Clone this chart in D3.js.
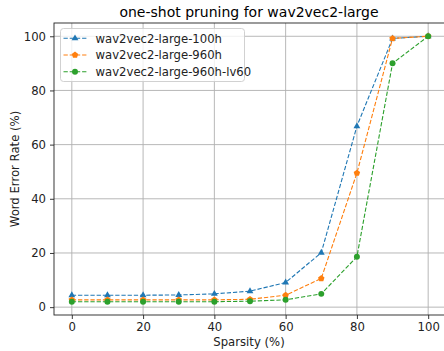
<!DOCTYPE html>
<html>
<head>
<meta charset="utf-8">
<script src="https://cdn.jsdelivr.net/npm/d3@7.9.0/dist/d3.min.js"></script>
<style>
  body { margin: 0; background: #fff; }
  svg { font-family: 'DejaVu Sans', sans-serif; }
</style>
</head>
<body>
<svg id="chart" width="444" height="351"></svg>
<script>
const sparsity = [0, 10, 20, 30, 40, 50, 60, 70, 80, 90, 100];
const wer100h = [4.4, 4.4, 4.4, 4.5, 4.9, 5.9, 9.1, 20.1, 66.8, 99.2, 100];
const wer960h = [2.7, 2.7, 2.7, 2.7, 2.7, 2.9, 4.4, 10.6, 49.5, 99.2, 100];
const wer960hLv60 = [2.0, 2.0, 2.0, 2.0, 2.0, 2.2, 2.7, 4.9, 18.6, 90.0, 100];
const xTicks = [0, 20, 40, 60, 80, 100];
const yTicks = [0, 20, 40, 60, 80, 100];

const series = [
  { name: 'wav2vec2-large-100h', values: wer100h, color: '#1f77b4', marker: 'tri' },
  { name: 'wav2vec2-large-960h', values: wer960h, color: '#ff7f0e', marker: 'pent' },
  { name: 'wav2vec2-large-960h-lv60', values: wer960hLv60, color: '#2ca02c', marker: 'circle' }
];

const svg = d3.select('#chart');
const m = { left: 54, right: 446, top: 23, bottom: 315 };
const fs = 11.67;

const x = d3.scaleLinear().domain([-5, 105]).range([m.left, m.right]);
const y = d3.scaleLinear().domain([-2.9, 104.9]).range([m.bottom, m.top]);

// grid
svg.append('g').selectAll('line').data(xTicks).join('line')
  .attr('x1', d => x(d)).attr('x2', d => x(d))
  .attr('y1', m.top).attr('y2', m.bottom)
  .attr('stroke', '#b0b0b0').attr('stroke-width', 0.9);
svg.append('g').selectAll('line').data(yTicks).join('line')
  .attr('x1', m.left).attr('x2', m.right)
  .attr('y1', d => y(d)).attr('y2', d => y(d))
  .attr('stroke', '#b0b0b0').attr('stroke-width', 0.9);

// axes
const xAxis = svg.append('g').attr('transform', `translate(0,${m.bottom})`)
  .call(d3.axisBottom(x).tickValues(xTicks).tickSize(4).tickPadding(4));
const yAxis = svg.append('g').attr('transform', `translate(${m.left},0)`)
  .call(d3.axisLeft(y).tickValues(yTicks).tickSize(4).tickPadding(4));
[xAxis, yAxis].forEach(a => {
  a.select('.domain').remove();
  a.selectAll('text').attr('font-size', fs).attr('fill', '#222').attr('font-family', 'DejaVu Sans');
  a.selectAll('line').attr('stroke', '#222').attr('stroke-width', 0.9);
});

// frame
svg.append('rect')
  .attr('x', m.left).attr('y', m.top)
  .attr('width', m.right - m.left).attr('height', m.bottom - m.top)
  .attr('fill', 'none').attr('stroke', '#222').attr('stroke-width', 0.9);

const line = d3.line().x((d, i) => x(sparsity[i])).y(d => y(d));

function markerPath(type) {
  if (type === 'tri') return d3.symbol(d3.symbolTriangle, 20)();
  if (type === 'circle') return d3.symbol(d3.symbolCircle, 28)();
  const r = 3.4;
  return d3.range(5).map(k => {
    const a = -Math.PI / 2 + k * 2 * Math.PI / 5;
    return (k ? 'L' : 'M') + (r * Math.cos(a)).toFixed(2) + ',' + (r * Math.sin(a)).toFixed(2);
  }).join('') + 'Z';
}

series.forEach(s => {
  svg.append('path')
    .attr('d', line(s.values))
    .attr('fill', 'none').attr('stroke', s.color)
    .attr('stroke-width', 1.1).attr('stroke-dasharray', '4.3,1.9');
  svg.append('g').selectAll('path').data(s.values).join('path')
    .attr('transform', (d, i) => `translate(${x(sparsity[i])},${y(d)})`)
    .attr('d', markerPath(s.marker))
    .attr('fill', s.color);
});

// labels
svg.append('text').attr('x', 249).attr('y', 17).attr('text-anchor', 'middle')
  .attr('font-size', 14).attr('fill', '#000').text('one-shot pruning for wav2vec2-large');
svg.append('text').attr('x', 249).attr('y', 346).attr('text-anchor', 'middle')
  .attr('font-size', fs).attr('fill', '#222').text('Sparsity (%)');
svg.append('text').attr('transform', `translate(19,${(m.top + m.bottom) / 2}) rotate(-90)`)
  .attr('text-anchor', 'middle').attr('font-size', fs).attr('fill', '#222')
  .text('Word Error Rate (%)');

// legend
const lg = svg.append('g').attr('transform', 'translate(60.5,28.5)');
lg.append('rect').attr('width', 184).attr('height', 53).attr('rx', 3)
  .attr('fill', '#fff').attr('fill-opacity', 0.8).attr('stroke', '#ccc').attr('stroke-width', 0.9);
series.forEach((s, i) => {
  const yy = 9.8 + i * 16.7;
  lg.append('line').attr('x1', 3).attr('x2', 26).attr('y1', yy).attr('y2', yy)
    .attr('stroke', s.color).attr('stroke-width', 1.1).attr('stroke-dasharray', '4.3,1.9');
  lg.append('path').attr('transform', `translate(14.5,${yy})`).attr('d', markerPath(s.marker)).attr('fill', s.color);
  lg.append('text').attr('x', 35).attr('y', yy + 4.2).attr('font-size', fs).attr('fill', '#222').text(s.name);
});
</script>
</body>
</html>
